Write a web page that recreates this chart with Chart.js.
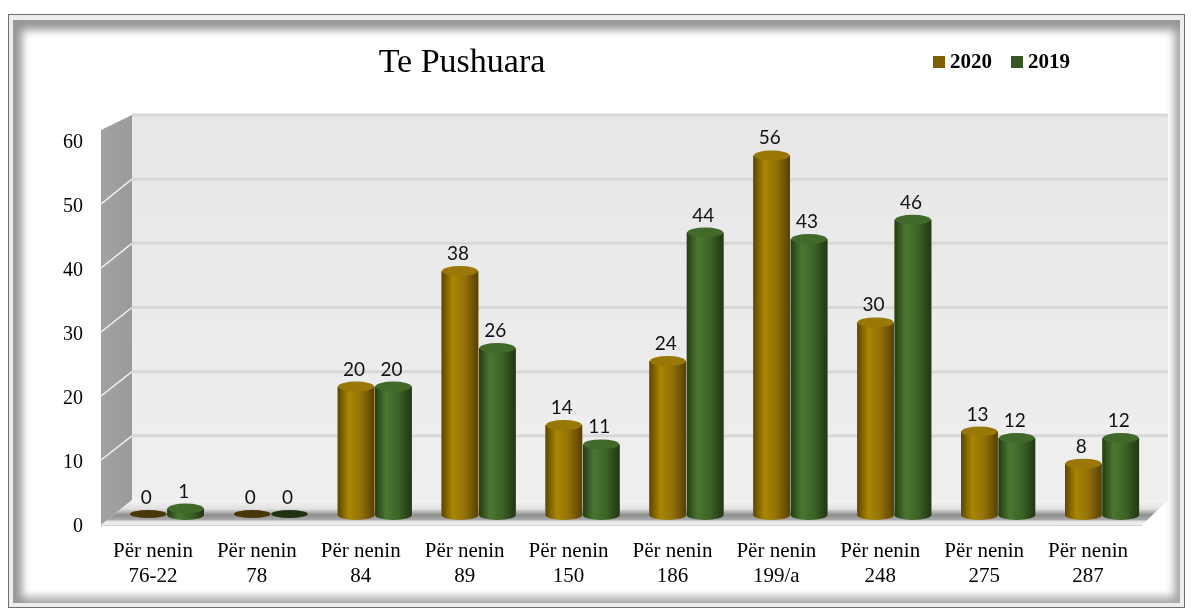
<!DOCTYPE html>
<html>
<head>
<meta charset="utf-8">
<title>Te Pushuara</title>
<script src="https://cdn.jsdelivr.net/npm/chart.js@4.4.1/dist/chart.umd.min.js"></script>
<style>
  html, body { margin: 0; padding: 0; background: #fff; }
  body { width: 1192px; height: 612px; position: relative; overflow: hidden; }
  #frame { position: absolute; left: 8px; top: 14px; width: 1175px; height: 592px; border: 1px solid #6e6e6e; background: #ededed; }
  #inner { position: absolute; left: 4px; top: 5px; right: 4px; bottom: 4px; background: #fff;
           box-shadow: inset 7px 8px 9px 2px #979797, inset -5px -5px 8px 1px #a8a8a8; }
  #chart { position: absolute; left: 0; top: 0; }
</style>
</head>
<body>
<div id="frame"><div id="inner"></div></div>
<canvas id="chart" width="1192" height="612"></canvas>
<script>
const titleText = 'Te Pushuara';
const articles = ['76-22', '78', '84', '89', '150', '186', '199/a', '248', '275', '287'];
const seriesNames = ['2020', '2019'];
const values2020 = [0, 0, 20, 38, 14, 24, 56, 30, 13, 8];
const values2019 = [1, 0, 20, 26, 11, 44, 43, 46, 12, 12];
const yTicks = [0, 10, 20, 30, 40, 50, 60];

const serif = "'Liberation Serif', 'Times New Roman', serif";
const sans = "Lato, 'Open Sans', sans-serif";
Chart.defaults.font.family = serif;
Chart.defaults.color = '#000';

// horizontal shading for the cylinders: [edge, light, mid, edge]
const shades = [
  { base: '#7f6000', stops: ['#5e4600', '#a98600', '#94720a', '#584100'], cap: '#9a7808', flat: '#4a3606' },
  { base: '#375623', stops: ['#243c15', '#4b7731', '#3d6427', '#213712'], cap: '#416a2a', flat: '#1f3312' }
];

// walls, floor and grid lines of the 3d box
const boxPlugin = {
  id: 'box',
  beforeDatasetsDraw(chart) {
    const { ctx, chartArea } = chart;
    const yw = chart.scales.yw, yl = chart.scales.yl;
    const backL = chartArea.left + 17, backR = chartArea.right + 14;
    const sideL = chartArea.left - 14;
    const top = yw.getPixelForValue(60), floorBack = yw.getPixelForValue(0);
    const floorFront = yl.getPixelForValue(0) - 2;
    ctx.save();
    // back wall
    let g = ctx.createLinearGradient(0, top, 0, floorBack);
    g.addColorStop(0, '#e7e7e7');
    g.addColorStop(1, '#efefef');
    ctx.fillStyle = g;
    ctx.fillRect(backL, top, backR - backL, floorBack - top);
    // side wall
    g = ctx.createLinearGradient(sideL, 0, backL, 0);
    g.addColorStop(0, '#a2a2a2');
    g.addColorStop(1, '#9a9a9a');
    ctx.fillStyle = g;
    ctx.beginPath();
    ctx.moveTo(sideL, top + 15);
    ctx.lineTo(backL, top);
    ctx.lineTo(backL, floorBack);
    ctx.lineTo(sideL, floorFront);
    ctx.closePath();
    ctx.fill();
    // grid lines
    yTicks.forEach(v => {
      if (v === 0) return;
      const y = yw.getPixelForValue(v);
      ctx.strokeStyle = '#d8d8d8';
      ctx.lineWidth = 3;
      ctx.beginPath();
      ctx.moveTo(backL, y);
      ctx.lineTo(backR, y);
      ctx.stroke();
      if (v < 60) {
        ctx.strokeStyle = 'rgba(255,255,255,0.85)';
        ctx.lineWidth = 1.5;
        ctx.beginPath();
        ctx.moveTo(sideL, yl.getPixelForValue(v) - 3);
        ctx.lineTo(backL, y);
        ctx.stroke();
      }
    });
    // floor
    const floorR = backR - 26;
    g = ctx.createLinearGradient(0, floorBack, 0, floorFront);
    g.addColorStop(0, '#f4f4f4');
    g.addColorStop(0.35, '#e2e2e2');
    g.addColorStop(0.6, '#8d8d8d');
    g.addColorStop(0.78, '#a8a8a8');
    g.addColorStop(0.86, '#e4e4e4');
    g.addColorStop(1, '#f2f2f2');
    ctx.fillStyle = g;
    ctx.beginPath();
    ctx.moveTo(backL, floorBack);
    ctx.lineTo(backR, floorBack);
    ctx.lineTo(floorR, floorFront);
    ctx.lineTo(sideL, floorFront);
    ctx.closePath();
    ctx.fill();
    ctx.strokeStyle = '#d0d0d0';
    ctx.lineWidth = 1;
    ctx.beginPath();
    ctx.moveTo(sideL, floorFront + 0.5);
    ctx.lineTo(floorR, floorFront + 0.5);
    ctx.stroke();
    ctx.restore();
  }
};

// cylinder look on top of the library's bar rectangles, plus value labels
const cylinderPlugin = {
  id: 'cylinders',
  afterDatasetsDraw(chart) {
    const { ctx } = chart;
    ctx.save();
    chart.data.datasets.forEach((ds, di) => {
      const meta = chart.getDatasetMeta(di);
      const s = shades[di];
      meta.data.forEach((bar, i) => {
        const { x, y, base, width } = bar.getProps(['x', 'y', 'base', 'width'], true);
        const left = x - width / 2, rx = width / 2, ry = 5;
        const g = ctx.createLinearGradient(left, 0, left + width, 0);
        g.addColorStop(0, s.stops[0]);
        g.addColorStop(0.3, s.stops[1]);
        g.addColorStop(0.62, s.stops[2]);
        g.addColorStop(1, s.stops[3]);
        if (base - y > 1) {
          ctx.fillStyle = g;
          ctx.beginPath();
          ctx.moveTo(left, y);
          ctx.lineTo(left, base);
          ctx.ellipse(x, base, rx, ry, 0, Math.PI, 0, true);
          ctx.lineTo(left + width, y);
          ctx.closePath();
          ctx.fill();
          ctx.fillStyle = s.cap;
          ctx.beginPath();
          ctx.ellipse(x, y, rx - 0.5, ry, 0, 0, Math.PI * 2);
          ctx.fill();
        } else {
          ctx.fillStyle = s.flat;
          ctx.beginPath();
          ctx.ellipse(x, base - 1, rx, 4, 0, 0, Math.PI * 2);
          ctx.fill();
        }
        ctx.fillStyle = '#111';
        ctx.font = '19px ' + sans;
        ctx.textAlign = 'center';
        ctx.textBaseline = 'alphabetic';
        ctx.fillText(String(ds.data[i]), x - 2, y - ry - 6);
      });
    });
    ctx.restore();
  }
};

// title and legend sharing the top row
const headerPlugin = {
  id: 'header',
  afterDraw(chart) {
    const { ctx } = chart;
    ctx.save();
    ctx.fillStyle = '#000';
    ctx.font = '34px ' + serif;
    ctx.textAlign = 'center';
    ctx.textBaseline = 'alphabetic';
    ctx.fillText(titleText, 462, 72);
    ctx.font = 'bold 21px ' + serif;
    ctx.textAlign = 'left';
    ctx.textBaseline = 'middle';
    const xs = [933, 1011];
    chart.data.datasets.forEach((ds, i) => {
      ctx.fillStyle = ds.backgroundColor;
      ctx.fillRect(xs[i], 56, 12, 12);
      ctx.fillStyle = '#000';
      ctx.fillText(ds.label, xs[i] + 17, 63);
    });
    ctx.restore();
  }
};

new Chart(document.getElementById('chart'), {
  type: 'bar',
  data: {
    labels: articles.map(a => ['Për nenin', a]),
    datasets: [
      { label: seriesNames[0], data: values2020, backgroundColor: shades[0].base, yAxisID: 'y' },
      { label: seriesNames[1], data: values2019, backgroundColor: shades[1].base, yAxisID: 'y' }
    ]
  },
  options: {
    responsive: false,
    animation: false,
    devicePixelRatio: 1,
    layout: { padding: { left: 0, right: 38, top: 110, bottom: 0 } },
    plugins: { legend: { display: false }, title: { display: false }, tooltip: { enabled: false } },
    datasets: { bar: { categoryPercentage: 0.72, barPercentage: 0.98 } },
    scales: {
      x: {
        grid: { display: false, drawTicks: false },
        border: { display: false },
        ticks: { color: '#000', font: { family: serif, size: 21 }, padding: 9, labelOffset: -14, maxRotation: 0, autoSkip: false },
        afterFit(scale) { scale.height = 82; }
      },
      y: { display: false, min: -2.336, max: 63.08 },
      yw: { display: false, min: -4.675, max: 60.78 },
      yl: {
        position: 'left',
        min: -0.469,
        max: 65.16,
        grid: { display: false, drawTicks: false },
        border: { display: false },
        ticks: { color: '#000', font: { family: serif, size: 20 }, padding: 32 },
        afterBuildTicks(scale) { scale.ticks = yTicks.map(v => ({ value: v })); },
        afterFit(scale) { scale.width = 115; }
      }
    }
  },
  plugins: [boxPlugin, cylinderPlugin, headerPlugin]
});
</script>
</body>
</html>
